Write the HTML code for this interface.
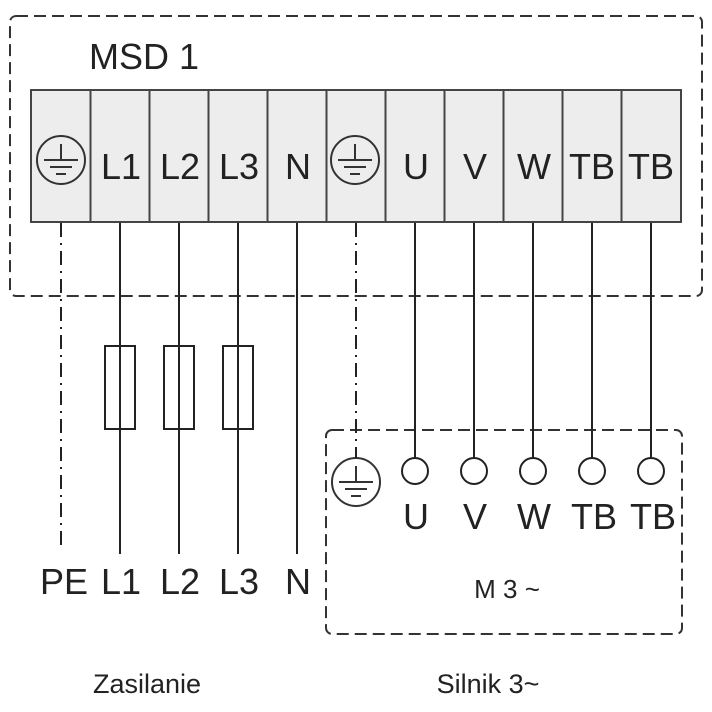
<!DOCTYPE html>
<html><head><meta charset="utf-8"><style>
html,body{margin:0;padding:0;background:#fff}
svg{display:block}
text{font-family:"Liberation Sans",Arial,sans-serif;fill:#222}
</style></head><body>
<svg width="712" height="712" viewBox="0 0 712 712">
<g fill="none" stroke="#333" stroke-width="2">
<rect x="10" y="16" width="692" height="280" rx="6" stroke-dasharray="12,6"/>
<rect x="326" y="430" width="356" height="204" rx="6" stroke-dasharray="12,6"/>
</g>
<text x="89" y="69" font-size="36">MSD 1</text>
<g stroke="#444" stroke-width="2" fill="#ededed">
<rect x="31" y="90" width="650" height="132"/>
</g>
<g stroke="#444" stroke-width="2">
<line x1="90.5" y1="90" x2="90.5" y2="222"/><line x1="149.5" y1="90" x2="149.5" y2="222"/>
<line x1="208.5" y1="90" x2="208.5" y2="222"/><line x1="267.5" y1="90" x2="267.5" y2="222"/>
<line x1="326.5" y1="90" x2="326.5" y2="222"/><line x1="385.5" y1="90" x2="385.5" y2="222"/>
<line x1="444.5" y1="90" x2="444.5" y2="222"/><line x1="503.5" y1="90" x2="503.5" y2="222"/>
<line x1="562.5" y1="90" x2="562.5" y2="222"/><line x1="621.5" y1="90" x2="621.5" y2="222"/>
</g>
<g font-size="36" text-anchor="middle">
<text x="121" y="179">L1</text><text x="180" y="179">L2</text><text x="239" y="179">L3</text>
<text x="298" y="179">N</text><text x="416" y="179">U</text><text x="475" y="179">V</text>
<text x="534" y="179">W</text><text x="592" y="179">TB</text><text x="651" y="179">TB</text>
</g>
<g stroke="#333" stroke-width="2" fill="none">
<g transform="translate(61,160)"><circle r="24"/><line x1="0" y1="-16" x2="0" y2="0"/><line x1="-17" y1="0" x2="17" y2="0"/><line x1="-11" y1="7" x2="11" y2="7"/><line x1="-5" y1="14" x2="5" y2="14"/></g>
<g transform="translate(355,160)"><circle r="24"/><line x1="0" y1="-16" x2="0" y2="0"/><line x1="-17" y1="0" x2="17" y2="0"/><line x1="-11" y1="7" x2="11" y2="7"/><line x1="-5" y1="14" x2="5" y2="14"/></g>
<g transform="translate(356,482)"><circle r="24"/><line x1="0" y1="-16" x2="0" y2="0"/><line x1="-17" y1="0" x2="17" y2="0"/><line x1="-11" y1="7" x2="11" y2="7"/><line x1="-5" y1="14" x2="5" y2="14"/></g>
</g>
<g stroke="#222" stroke-width="2" fill="none">
<line x1="61" y1="223" x2="61" y2="546" stroke-dasharray="14,6,2,6"/>
<line x1="356" y1="223" x2="356" y2="458" stroke-dasharray="14,6,2,6"/>
<line x1="120" y1="223" x2="120" y2="554"/><line x1="179" y1="223" x2="179" y2="554"/>
<line x1="238" y1="223" x2="238" y2="554"/><line x1="297" y1="223" x2="297" y2="554"/>
<line x1="415" y1="223" x2="415" y2="458"/><line x1="474" y1="223" x2="474" y2="458"/>
<line x1="533" y1="223" x2="533" y2="458"/><line x1="592" y1="223" x2="592" y2="458"/>
<line x1="651" y1="223" x2="651" y2="458"/>
<rect x="105" y="346" width="30" height="83"/><rect x="164" y="346" width="30" height="83"/><rect x="223" y="346" width="30" height="83"/>
<circle cx="415" cy="471" r="13" fill="#fff"/><circle cx="474" cy="471" r="13" fill="#fff"/>
<circle cx="533" cy="471" r="13" fill="#fff"/><circle cx="592" cy="471" r="13" fill="#fff"/>
<circle cx="651" cy="471" r="13" fill="#fff"/>
</g>
<g font-size="36" text-anchor="middle">
<text x="416" y="529">U</text><text x="475" y="529">V</text><text x="534" y="529">W</text>
<text x="594" y="529">TB</text><text x="653" y="529">TB</text>
<text x="64" y="594">PE</text><text x="121" y="594">L1</text><text x="180" y="594">L2</text>
<text x="239" y="594">L3</text><text x="298" y="594">N</text>
</g>
<text x="507" y="598" font-size="26" text-anchor="middle">M 3 ~</text>
<text x="147" y="693" font-size="27" text-anchor="middle">Zasilanie</text>
<text x="488" y="693" font-size="27" text-anchor="middle">Silnik 3~</text>
</svg>
</body></html>
